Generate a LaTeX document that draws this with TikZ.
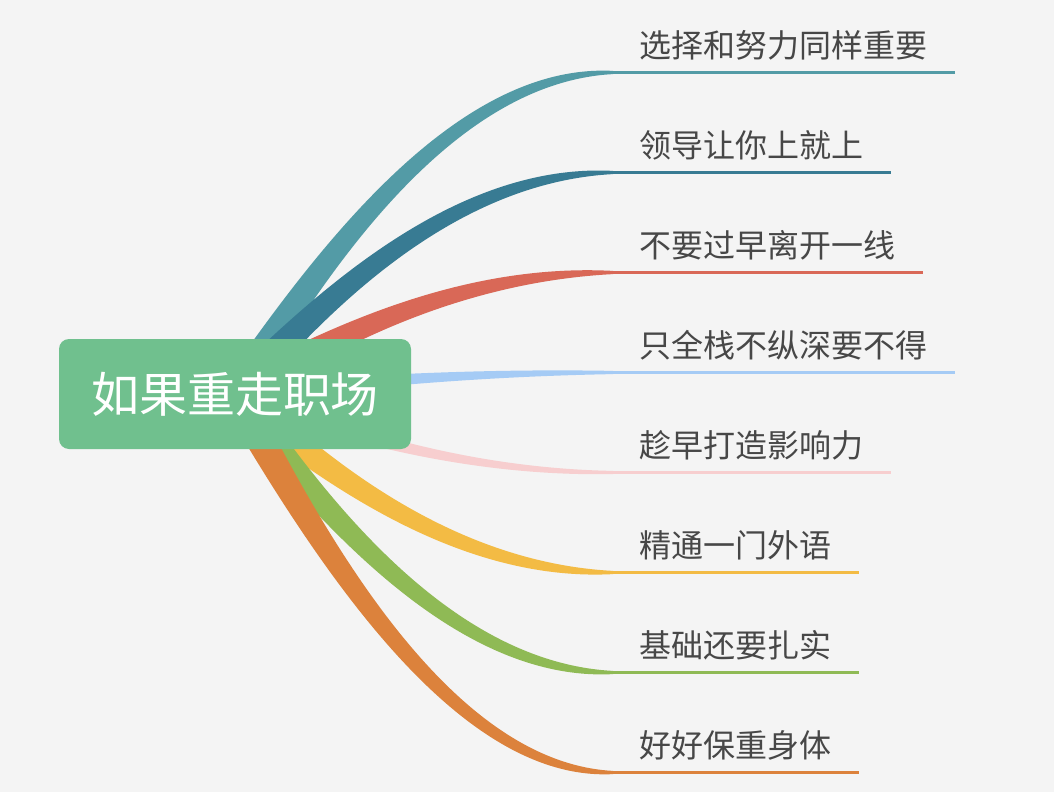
\documentclass[tikz,border=0pt]{standalone}
\usepackage{fontspec}
\setmainfont{Noto Sans CJK SC}
\usetikzlibrary{calc}

\definecolor{bgcol}{HTML}{F4F4F4}
\definecolor{rootcol}{HTML}{70C08E}
\definecolor{txtcol}{HTML}{474747}
\definecolor{tealcol}{HTML}{539BA6}
\definecolor{navycol}{HTML}{387B93}
\definecolor{redcol}{HTML}{D96857}
\definecolor{skycol}{HTML}{A5CBF5}
\definecolor{pinkcol}{HTML}{F7CECF}
\definecolor{yellowcol}{HTML}{F3BB44}
\definecolor{greencol}{HTML}{8FBA55}
\definecolor{orangecol}{HTML}{DC823C}

\tikzset{
  leaf/.style={anchor=south west, inner xsep=20pt, inner ysep=11.25pt, text depth=0pt,
    text=txtcol, font=\fontsize{24pt}{28pt}\selectfont},
  rootbox/.style={fill=rootcol, rounded corners=7.5pt, minimum width=264pt, minimum height=82.5pt,
    inner sep=0pt, text=white, font=\fontsize{36pt}{42pt}\selectfont},
  underline/.style={line width=2.5pt},
}

% tapered branch: colour, leaf node, start half width, middle half width, end half width
\newcommand{\mmbranch}[5]{%
  \path let \p1=(hub), \p2=(#2.south west) in
    ({\x1+0.23*(\x2-\x1)},{\y1+0.42*(\y2-\y1)}) coordinate (c1)
    ({\x1+0.58*(\x2-\x1)},\y2) coordinate (c2);
  \fill[#1] ($(hub)!#3!90:(c1)$) .. controls ($(c1)!#4!90:(c2)$) and ($(c2)+(0,-#5)$) .. ($(#2.south west)+(0,-1.6)$)
    -- ($(#2.south west)+(0,1.6)$) .. controls ($(c2)+(0,#5)$) and ($(c1)!#4!-90:(c2)$) .. ($(hub)!#3!-90:(c1)$) -- cycle;
}

\begin{document}
\begin{tikzpicture}[x=0.75pt, y=-0.75pt]
\useasboundingbox (0,0) rectangle (1054,792);
\fill[bgcol] (0,0) rectangle (1054,792);
\coordinate (hub) at (235,394);

\node[leaf] (l1) at (613,72.5) {选择和努力同样重要};
\node[leaf] (l2) at (613,172.5) {领导让你上就上};
\node[leaf] (l3) at (613,272.5) {不要过早离开一线};
\node[leaf] (l4) at (613,372.5) {只全栈不纵深要不得};
\node[leaf] (l5) at (613,472.5) {趁早打造影响力};
\node[leaf] (l6) at (613,572.5) {精通一门外语};
\node[leaf] (l7) at (613,672.5) {基础还要扎实};
\node[leaf] (l8) at (613,772.5) {好好保重身体};

\draw[underline, tealcol] (l1.south west) -- (l1.south east);
\draw[underline, navycol] (l2.south west) -- (l2.south east);
\draw[underline, redcol] (l3.south west) -- (l3.south east);
\draw[underline, skycol] (l4.south west) -- (l4.south east);
\draw[underline, pinkcol] (l5.south west) -- (l5.south east);
\draw[underline, yellowcol] (l6.south west) -- (l6.south east);
\draw[underline, greencol] (l7.south west) -- (l7.south east);
\draw[underline, orangecol] (l8.south west) -- (l8.south east);

\mmbranch{tealcol}{l1}{12pt}{7.5pt}{10}
\mmbranch{navycol}{l2}{12pt}{7.5pt}{10}
\mmbranch{redcol}{l3}{12pt}{7.5pt}{10}
\mmbranch{skycol}{l4}{7pt}{5pt}{4.5}
\mmbranch{pinkcol}{l5}{7pt}{5pt}{4.5}
\mmbranch{yellowcol}{l6}{12pt}{7.5pt}{10}
\mmbranch{greencol}{l7}{12pt}{7.5pt}{10}
\mmbranch{orangecol}{l8}{12pt}{7.5pt}{10}

\node[rootbox] (root) at (hub) {如果重走职场};
\end{tikzpicture}
\end{document}
